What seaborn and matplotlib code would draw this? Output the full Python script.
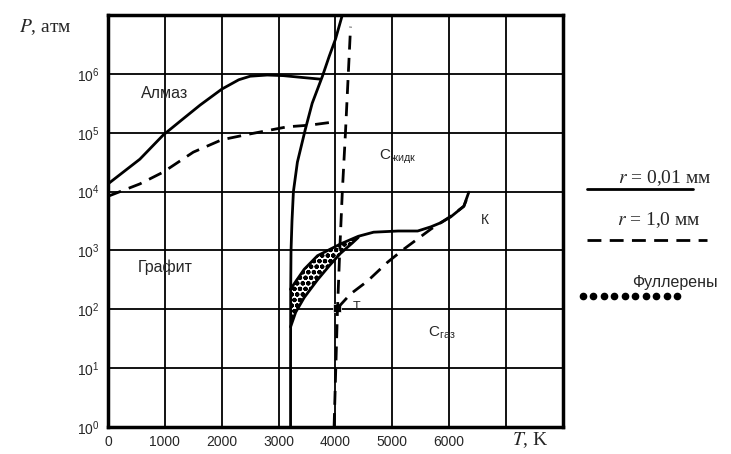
import numpy as np
import matplotlib
matplotlib.use("Agg")
import matplotlib.pyplot as plt
from matplotlib.lines import Line2D
import seaborn as sns

# фазовая диаграмма углерода (T в K, lg P в атм)
# алмаз-графит, r = 0,01 мм
dg_solid_T = [0, 560, 970, 1300, 1620, 2000, 2300, 2500, 2800, 3080, 3400, 3735]
dg_solid_lgP = [4.13, 4.55, 4.96, 5.22, 5.47, 5.74, 5.90, 5.96, 5.98, 5.97, 5.94, 5.91]
# алмаз-графит, r = 1,0 мм
dg_dash_T = [0, 560, 970, 1500, 2000, 2500, 3150, 3560, 3950]
dg_dash_lgP = [3.92, 4.13, 4.33, 4.67, 4.88, 4.98, 5.10, 5.13, 5.18]
# графит-жидкость, r = 0,01 мм
gl_solid_T = [3210, 3210, 3212, 3218, 3235, 3260, 3330, 3470, 3590, 3770, 3890, 4000, 4120]
gl_solid_lgP = [0.0, 1.0, 2.3, 3.0, 3.5, 4.0, 4.5, 5.06, 5.5, 5.96, 6.3, 6.59, 7.0]
# графит-жидкость, r = 1,0 мм
gl_dash_T = [3975, 4005, 4035, 4075, 4120, 4175, 4225, 4265]
gl_dash_lgP = [0.0, 1.0, 2.0, 3.0, 4.0, 5.0, 6.0, 6.8]
# жидкость-газ, r = 0,01 мм
lg_solid_T = [3207, 3450, 3683, 4088, 4400, 4670, 5100, 5445, 5674, 5850, 6026, 6256, 6344]
lg_solid_lgP = [2.34, 2.68, 2.91, 3.11, 3.24, 3.31, 3.33, 3.33, 3.40, 3.47, 3.57, 3.75, 3.99]
# жидкость-газ, r = 1,0 мм
lg_dash_T = [4035, 4264, 4564, 4916, 5198, 5674, 6026, 6256, 6344]
lg_dash_lgP = [2.02, 2.26, 2.48, 2.80, 3.02, 3.36, 3.58, 3.75, 3.96]
# область фуллеренов
band_T = [3210, 3300, 3450, 3683, 3900, 4088, 4300, 4400]
band_low_lgP = [1.70, 1.95, 2.20, 2.50, 2.75, 2.95, 3.13, 3.22]
band_high_lgP = [2.34, 2.50, 2.68, 2.91, 3.02, 3.11, 3.19, 3.22]
# тройная точка
triple_T = [4035]
triple_lgP = [2.02]

x_ticks = [0, 1000, 2000, 3000, 4000, 5000, 6000, 7000, 8000]
x_labels = ["0", "1000", "2000", "3000", "4000", "5000", "6000", "", ""]
y_pow = [0, 1, 2, 3, 4, 5, 6, 7]

sns.set_style("white")
plt.rcParams["font.family"] = ["Liberation Sans", "DejaVu Sans"]
plt.rcParams["hatch.linewidth"] = 1.5

fig = plt.figure(figsize=(7.31, 4.54), dpi=100)
ax = fig.add_axes([108 / 731, 1 - 427 / 454, 455 / 731, 412 / 454])
ax.set_yscale("log")


def curve(T, lgP, ls="-"):
    sns.lineplot(x=T, y=10 ** np.array(lgP), sort=False, estimator=None,
                 color="black", lw=2, linestyle=ls, ax=ax)


dash = (0, (5, 3))
curve(dg_solid_T, dg_solid_lgP)
curve(dg_dash_T, dg_dash_lgP, dash)
curve(gl_solid_T, gl_solid_lgP)
curve(gl_dash_T, gl_dash_lgP, dash)
curve(lg_solid_T, lg_solid_lgP)
curve(lg_dash_T, lg_dash_lgP, dash)
curve(band_T, band_low_lgP)
ax.fill_between(band_T, 10 ** np.array(band_low_lgP), 10 ** np.array(band_high_lgP),
                facecolor="white", edgecolor="black", hatch="ooo", linewidth=0)
sns.scatterplot(x=triple_T, y=10 ** np.array(triple_lgP), marker="s", s=40,
                color="black", ax=ax)

ax.set_xlim(0, 8000)
ax.set_ylim(1, 1e7)
ax.set_xticks(x_ticks)
ax.set_xticklabels(x_labels, fontsize=10)
ax.set_yticks([10.0 ** p for p in y_pow])
ax.set_yticklabels([r"$\mathregular{10^{%d}}$" % p if p < 7 else "" for p in y_pow], fontsize=10)
ax.minorticks_off()
ax.tick_params(length=0, pad=6)
ax.grid(True, color="black", lw=1.3)
for s in ax.spines.values():
    s.set_color("black")
    s.set_linewidth(2.5)

# подписи областей
ax.text(990, 10 ** 5.66, "Алмаз", fontsize=11.5, ha="center", va="center")
ax.text(530, 10 ** 2.72, "Графит", fontsize=11.5, ha="left", va="center")
ax.text(4760, 10 ** 4.59, r"C$_\mathregular{жидк}$", fontsize=11, ha="left", va="center")
ax.text(5620, 10 ** 1.61, r"C$_\mathregular{газ}$", fontsize=11, ha="left", va="center")
ax.text(6560, 10 ** 3.52, "К", fontsize=10, ha="left", va="center")
ax.text(4300, 10 ** 2.04, "T", fontsize=9, ha="left", va="center")

serif = ["Liberation Serif", "DejaVu Serif"]
fig.text(45 / 731, 1 - 27 / 454, r"$P$, атм", family=serif, math_fontfamily="stix",
         fontsize=14, ha="center", va="center")
fig.text(530 / 731, 1 - 440 / 454, r"$T$, K", family=serif, math_fontfamily="stix",
         fontsize=14, ha="center", va="center")

# легенда справа
fig.text(665 / 731, 1 - 178 / 454, r"$r$ = 0,01 мм", family=serif, math_fontfamily="stix",
         fontsize=14, ha="center", va="center")
fig.add_artist(Line2D([587 / 731, 693 / 731], [1 - 189 / 454] * 2, color="black", lw=2))
fig.text(659 / 731, 1 - 220 / 454, r"$r$ = 1,0 мм", family=serif, math_fontfamily="stix",
         fontsize=14, ha="center", va="center")
fig.add_artist(Line2D([587 / 731, 707 / 731], [1 - 240 / 454] * 2, color="black", lw=2,
                      linestyle=dash))
fig.text(675 / 731, 1 - 283 / 454, "Фуллерены", fontsize=11.5, ha="center", va="center")
fig.add_artist(Line2D(np.linspace(583, 677, 10) / 731, [1 - 296 / 454] * 10, color="black",
                      marker="o", markersize=4.5, linestyle="none"))

fig.savefig("out.png", dpi=100)
